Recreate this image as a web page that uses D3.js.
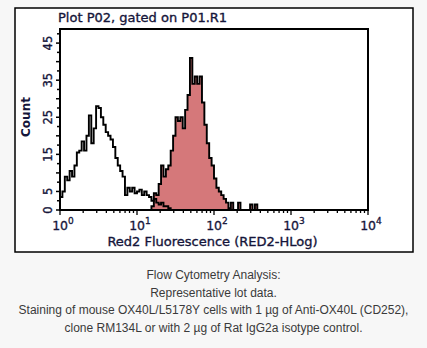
<!DOCTYPE html>
<html>
<head>
<meta charset="utf-8">
<script src="https://cdn.jsdelivr.net/npm/d3@7"></script>
<style>
  html, body { margin: 0; padding: 0; background: #f7f7f7; }
  svg { display: block; }
</style>
</head>
<body>
<svg id="chart" width="427" height="348"></svg>
<script>
// ---------- data ----------
const binsPerDecade = 32;           // histogram channels per log decade
const xDomain = [1, 10000];
const yMax = 48.8;
const isotypeStartBin = 0;          // Rat IgG2a isotype control (open black outline)
const isotypeCounts = [3.5, 5, 9, 8, 10.5, 9, 12, 15.5, 16, 18.5, 16, 20, 25.5, 18, 22, 28,
  27.5, 25, 23, 21, 20, 19, 17, 14, 12, 10.5, 9, 4, 6, 5, 6, 4.5, 5, 5.5, 4, 5, 4, 3.5,
  2.5, 3, 2, 1.5, 2, 1, 1, 0.5];
const stainedStartBin = 38;         // Anti-OX40L (CD252) (filled red)
const stainedCounts = [1, 4.5, 4, 7, 12, 9, 11, 12, 16, 20, 25, 24, 25, 22, 27, 31, 41, 34,
  36, 34, 36, 29, 23, 18, 14, 12, 8.5, 6, 5, 4, 3, 2, 0.5, 2, 0, 0, 2, 0, 0, 0, 0, 1.5, 0, 1.5];
const yTickLabels = [0, 5, 15, 25, 35, 45];
const xTickDecades = [0, 1, 2, 3, 4];
const titleText = "Plot P02, gated on P01.R1";
const xLabelText = "Red2 Fluorescence (RED2-HLog)";
const yLabelText = "Count";
const captionLines = [
  "Flow Cytometry Analysis:",
  "Representative lot data.",
  "Staining of mouse OX40L/L5178Y cells with 1 µg of Anti-OX40L (CD252),",
  "clone RM134L or with 2 µg of Rat IgG2a isotype control."
];

// ---------- layout ----------
const svg = d3.select("#chart");
const plot = { left: 60, right: 368, top: 29, bottom: 210 };
const ink = "#15153a";
const plotFont = "DejaVu Sans, Verdana, sans-serif";

svg.append("rect").attr("x", 15).attr("y", 8).attr("width", 398).attr("height", 244)
  .attr("fill", "#ffffff").attr("stroke", "#000").attr("stroke-width", 1.5);

const x = d3.scaleLog().domain(xDomain).range([plot.left, plot.right]);
const y = d3.scaleLinear().domain([0, yMax]).range([plot.bottom, plot.top]);

function histPoints(startBin, counts) {
  const pts = [];
  const edge = i => x(Math.pow(10, i / binsPerDecade));
  pts.push([edge(startBin), y(0)]);
  counts.forEach((c, k) => pts.push([edge(startBin + k), y(c)]));
  const endEdge = edge(startBin + counts.length);
  pts.push([endEdge, y(counts[counts.length - 1])]);
  pts.push([endEdge, y(0)]);
  return pts;
}
const stepLine = d3.line().curve(d3.curveStepAfter);

const stPts = histPoints(stainedStartBin, stainedCounts);
svg.append("path").attr("d", stepLine(stPts) + "Z")
  .attr("fill", "#d5787a").attr("stroke", "none");
svg.append("path").attr("d", stepLine(stPts))
  .attr("fill", "none").attr("stroke", "#000").attr("stroke-width", 1.9);

const isoPts = histPoints(isotypeStartBin, isotypeCounts);
svg.append("path").attr("d", stepLine(isoPts))
  .attr("fill", "none").attr("stroke", "#000").attr("stroke-width", 1.9);

// plot frame
svg.append("rect").attr("x", plot.left).attr("y", plot.top)
  .attr("width", plot.right - plot.left).attr("height", plot.bottom - plot.top)
  .attr("fill", "none").attr("stroke", "#000").attr("stroke-width", 2);

// y ticks
const yTicks = d3.range(0, yMax, 2.5);
svg.append("g").selectAll("line").data(yTicks).join("line")
  .attr("x1", plot.left).attr("x2", d => plot.left - (d % 5 === 0 ? 4 : 3))
  .attr("y1", d => y(d)).attr("y2", d => y(d))
  .attr("stroke", "#000").attr("stroke-width", 1.5);
svg.append("g").selectAll("text").data(yTickLabels).join("text")
  .attr("transform", d => `translate(${plot.left - 8},${y(d)}) rotate(-90)`)
  .attr("text-anchor", "middle").attr("font-family", plotFont).attr("font-size", 11.5)
  .attr("fill", ink).attr("stroke", ink).attr("stroke-width", 0.35).text(d => d);

// x ticks (log minor)
const xTicks = [];
for (let k = 0; k < 4; k++) for (let m = 1; m <= 9; m++) xTicks.push(m * Math.pow(10, k));
xTicks.push(10000);
svg.append("g").selectAll("line").data(xTicks).join("line")
  .attr("x1", d => x(d)).attr("x2", d => x(d))
  .attr("y1", plot.bottom).attr("y2", d => plot.bottom + (Math.log10(d) % 1 === 0 ? 5 : 3))
  .attr("stroke", "#000").attr("stroke-width", 1.3);
const xl = svg.append("g").selectAll("text").data(xTickDecades).join("text")
  .attr("x", d => x(Math.pow(10, d)) + 3).attr("y", 230)
  .attr("text-anchor", "middle").attr("font-family", plotFont).attr("font-size", 12.5)
  .attr("fill", ink).attr("stroke", ink).attr("stroke-width", 0.3);
xl.append("tspan").text("10");
xl.append("tspan").attr("dy", -6).attr("font-size", 9).text(d => d);

// title & axis labels
svg.append("text").attr("x", 58).attr("y", 22).attr("font-family", plotFont)
  .attr("font-size", 13).attr("fill", ink).attr("stroke", ink).attr("stroke-width", 0.35)
  .text(titleText);
svg.append("text").attr("x", 212.5).attr("y", 246).attr("text-anchor", "middle")
  .attr("font-family", plotFont).attr("font-size", 13).attr("fill", ink)
  .attr("stroke", ink).attr("stroke-width", 0.35).text(xLabelText);
svg.append("text").attr("transform", "translate(30,117) rotate(-90)").attr("text-anchor", "middle")
  .attr("font-family", plotFont).attr("font-size", 12).attr("font-weight", "bold")
  .attr("fill", ink).text(yLabelText);

// caption
svg.append("g").selectAll("text").data(captionLines).join("text")
  .attr("x", 213.5).attr("y", (d, i) => 279 + i * 17.7).attr("text-anchor", "middle")
  .attr("font-family", "Liberation Sans, Arial, sans-serif").attr("font-size", 12)
  .attr("fill", "#3a3a3a").text(d => d);
</script>
</body>
</html>
